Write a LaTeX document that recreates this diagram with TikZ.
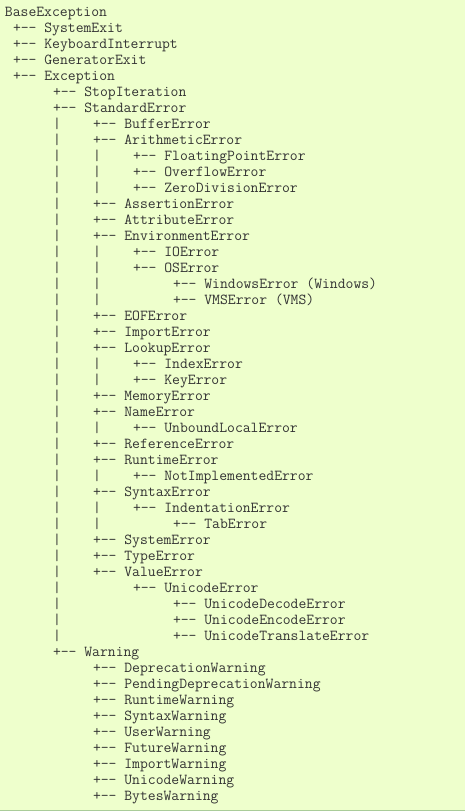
\documentclass[tikz,border=0pt]{standalone}
\definecolor{codebg}{HTML}{EEFFCC}
\definecolor{codeline}{HTML}{AACC99}
\definecolor{codetext}{HTML}{333333}
\begin{document}
\begin{tikzpicture}[
  codetxt/.style={anchor=base west, inner sep=0pt, outer sep=0pt, text=codetext,
    font=\ttfamily\fontsize{11.43pt}{12pt}\selectfont}
]
\fill[codebg] (0,0) rectangle (348.75pt,-608.25pt);
\useasboundingbox (0,0) rectangle (348.75pt,-608.25pt);
\draw[codeline, line width=0.75pt] (0,-607.5pt) -- (348.75pt,-607.5pt);
\foreach \k/\c/\t in {
  1/0/BaseException,
  2/1/+-{}- SystemExit,
  3/1/+-{}- KeyboardInterrupt,
  4/1/+-{}- GeneratorExit,
  5/1/+-{}- Exception,
  6/6/+-{}- StopIteration,
  7/6/+-{}- StandardError,
  8/11/+-{}- BufferError,
  9/11/+-{}- ArithmeticError,
  10/16/+-{}- FloatingPointError,
  11/16/+-{}- OverflowError,
  12/16/+-{}- ZeroDivisionError,
  13/11/+-{}- AssertionError,
  14/11/+-{}- AttributeError,
  15/11/+-{}- EnvironmentError,
  16/16/+-{}- IOError,
  17/16/+-{}- OSError,
  18/21/+-{}- WindowsError (Windows),
  19/21/+-{}- VMSError (VMS),
  20/11/+-{}- EOFError,
  21/11/+-{}- ImportError,
  22/11/+-{}- LookupError,
  23/16/+-{}- IndexError,
  24/16/+-{}- KeyError,
  25/11/+-{}- MemoryError,
  26/11/+-{}- NameError,
  27/16/+-{}- UnboundLocalError,
  28/11/+-{}- ReferenceError,
  29/11/+-{}- RuntimeError,
  30/16/+-{}- NotImplementedError,
  31/11/+-{}- SyntaxError,
  32/16/+-{}- IndentationError,
  33/21/+-{}- TabError,
  34/11/+-{}- SystemError,
  35/11/+-{}- TypeError,
  36/11/+-{}- ValueError,
  37/16/+-{}- UnicodeError,
  38/21/+-{}- UnicodeDecodeError,
  39/21/+-{}- UnicodeEncodeError,
  40/21/+-{}- UnicodeTranslateError,
  41/6/+-{}- Warning,
  42/11/+-{}- DeprecationWarning,
  43/11/+-{}- PendingDeprecationWarning,
  44/11/+-{}- RuntimeWarning,
  45/11/+-{}- SyntaxWarning,
  46/11/+-{}- UserWarning,
  47/11/+-{}- FutureWarning,
  48/11/+-{}- ImportWarning,
  49/11/+-{}- UnicodeWarning,
  50/11/+-{}- BytesWarning}
  \node[codetxt] (n\k) at ({3.75pt+\c*6pt},{-\k*12pt}) {\t};
\foreach \k in {8,...,40}
  \node[codetxt] (a\k) at ({3.75pt+6*6pt},{-\k*12pt}) {|};
\foreach \k in {10,11,12,16,17,18,19,23,24,27,30,32,33}
  \node[codetxt] (b\k) at ({3.75pt+11*6pt},{-\k*12pt}) {|};
\end{tikzpicture}
\end{document}
